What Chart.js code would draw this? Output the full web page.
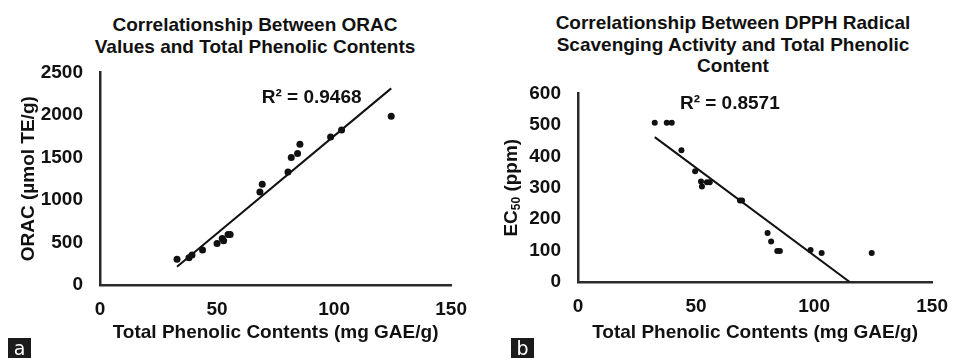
<!DOCTYPE html>
<html>
<head>
<meta charset="utf-8">
<script src="https://cdn.jsdelivr.net/npm/chart.js@4.4.1/dist/chart.umd.min.js"></script>
<style>
  html, body { margin: 0; padding: 0; background: #fff; }
  body { width: 961px; height: 358px; position: relative; overflow: hidden; font-family: "Liberation Sans", Arial, sans-serif; color: #111; }
  .ttl { position: absolute; text-align: center; font-weight: bold; font-size: 19px; line-height: 21.5px; white-space: nowrap; }
  .box { position: absolute; }
  .tag { position: absolute; top: 338px; height: 20px; background: #1b1b1b; color: #fff; font-family: "DejaVu Sans", sans-serif; font-size: 19px; line-height: 20px; text-align: center; }
</style>
</head>
<body>
<div class="ttl" style="left:55px;width:400px;top:14px">Correlationship Between ORAC<br>Values and Total Phenolic Contents</div>
<div class="ttl" style="left:533px;width:400px;top:12px">Correlationship Between DPPH Radical<br>Scavenging Activity and Total Phenolic<br>Content</div>

<div class="box" style="left:0;top:44px;width:480px;height:314px"><canvas id="orac"></canvas></div>
<div class="box" style="left:480px;top:65px;width:481px;height:293px"><canvas id="dpph"></canvas></div>

<div class="tag" style="left:8px;width:23px">a</div>
<div class="tag" style="left:511px;width:23px">b</div>

<script>
/* panel a: ORAC vs total phenolic content */
const oracTpc = [32.9, 38.0, 39.3, 43.8, 50.0, 52.2, 52.8, 54.7, 55.6, 68.3, 69.3, 80.3, 81.7, 84.4, 85.4, 98.5, 103.2, 124.4];
const oracVal = [302, 320, 352, 411, 489, 548, 520, 595, 595, 1095, 1185, 1330, 1499, 1546, 1655, 1741, 1823, 1984];
const oracTrendX = [32.9, 124.4];
const oracTrendY = [215, 2312];

/* panel b: DPPH EC50 vs total phenolic content */
const dpphTpc = [32.5, 37.6, 39.7, 43.8, 49.6, 52.1, 52.5, 54.6, 55.8, 68.6, 69.5, 80.3, 81.8, 84.4, 85.5, 98.5, 103.2, 124.4];
const dpphEc50 = [507, 507, 507, 419, 352, 320, 304, 317, 317, 259, 259, 156, 129, 99, 99, 102, 92, 92];
const dpphTrendX = [32.5, 115.1];
const dpphTrendY = [461, 0];

const xTicks = [0, 50, 100, 150];
const oracTicks = [0, 500, 1000, 1500, 2000, 2500];
const dpphTicks = [0, 100, 200, 300, 400, 500, 600];

const ink = '#111';
const axisInk = '#2a2a2a';
const font19 = { family: '"Liberation Sans", Arial, sans-serif', size: 19, weight: 'bold' };

const pts = (xs, ys) => xs.map((x, i) => ({ x, y: ys[i] }));

// R² label drawn at a data position
const r2Label = {
    id: 'r2',
    afterDatasetsDraw(chart, args, o) {
        const { ctx, scales } = chart;
        ctx.save();
        ctx.font = 'bold 19px "Liberation Sans", Arial, sans-serif';
        ctx.fillStyle = ink;
        ctx.textAlign = 'center';
        ctx.textBaseline = 'middle';
        ctx.fillText(o.text, scales.x.getPixelForValue(o.x), scales.y.getPixelForValue(o.y));
        ctx.restore();
    }
};

// rotated y title with subscript (EC50)
const subTitle = {
    id: 'subTitle',
    afterDraw(chart, args, o) {
        if (!o.parts) return;
        const { ctx, chartArea } = chart;
        ctx.save();
        ctx.translate(o.x, (chartArea.top + chartArea.bottom) / 2);
        ctx.rotate(-Math.PI / 2);
        ctx.fillStyle = ink;
        ctx.textBaseline = 'middle';
        let w = 0;
        o.parts.forEach(p => { ctx.font = `bold ${p.size}px "Liberation Sans", Arial, sans-serif`; w += ctx.measureText(p.t).width; });
        let cx = -w / 2;
        o.parts.forEach(p => {
            ctx.font = `bold ${p.size}px "Liberation Sans", Arial, sans-serif`;
            ctx.fillText(p.t, cx, p.dy || 0);
            cx += ctx.measureText(p.t).width;
        });
        ctx.restore();
    }
};

function makeChart(id, cfg) {
    return new Chart(document.getElementById(id), {
        data: {
            datasets: [
                { type: 'scatter', data: pts(cfg.xs, cfg.ys), backgroundColor: ink, borderWidth: 0, pointRadius: cfg.r, pointHoverRadius: cfg.r },
                { type: 'line', data: pts(cfg.tx, cfg.ty), borderColor: ink, borderWidth: 2, pointRadius: 0, fill: false, tension: 0 }
            ]
        },
        options: {
            responsive: true,
            maintainAspectRatio: false,
            animation: false,
            layout: { padding: { left: 0, right: cfg.padR, top: 0, bottom: 0 } },
            plugins: {
                legend: { display: false },
                tooltip: { enabled: false },
                r2: cfg.r2,
                subTitle: cfg.sub || {}
            },
            scales: {
                x: {
                    type: 'linear', min: 0, max: 150,
                    afterBuildTicks: a => { a.ticks = xTicks.map(v => ({ value: v })); },
                    afterFit: a => { a.height = cfg.xH; },
                    grid: { display: false, drawTicks: false },
                    border: { color: axisInk, width: 2.5 },
                    ticks: { color: ink, font: font19, padding: 13, maxRotation: 0, callback: v => String(v) },
                    title: { display: true, text: 'Total Phenolic Contents (mg GAE/g)', color: ink, font: font19, padding: { top: 0, bottom: 14 } }
                },
                y: {
                    type: 'linear', min: 0, max: cfg.yMax,
                    afterBuildTicks: a => { a.ticks = cfg.yTicks.map(v => ({ value: v })); },
                    afterFit: a => { a.width = cfg.yW; },
                    grid: { display: false, drawTicks: false },
                    border: { color: axisInk, width: 2.5 },
                    ticks: { color: ink, font: font19, padding: 17, callback: v => String(v) },
                    title: { display: !!cfg.yTitle, text: cfg.yTitle || '', color: ink, font: font19, padding: { top: 17, bottom: 0 } }
                }
            }
        },
        plugins: [r2Label, subTitle]
    });
}

makeChart('orac', {
    xs: oracTpc, ys: oracVal, tx: oracTrendX, ty: oracTrendY, r: 3.5,
    yMax: 2500, yTicks: oracTicks, yW: 100, xH: 73, padR: 20,
    yTitle: 'ORAC (µmol TE/g)',
    r2: { text: 'R² = 0.9468', x: 90.4, y: 2207 }
});

makeChart('dpph', {
    xs: dpphTpc, ys: dpphEc50, tx: dpphTrendX, ty: dpphTrendY, r: 3,
    yMax: 600, yTicks: dpphTicks, yW: 98, xH: 76, padR: 17,
    r2: { text: 'R² = 0.8571', x: 64.3, y: 566 },
    sub: { x: 32, parts: [{ t: 'EC', size: 19 }, { t: '50', size: 12, dy: 5 }, { t: ' (ppm)', size: 19 }] }
});
</script>
</body>
</html>
